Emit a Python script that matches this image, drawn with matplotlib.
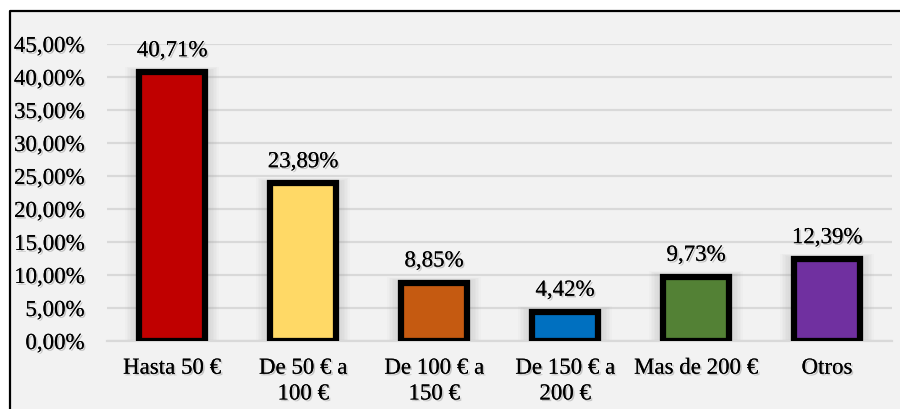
import matplotlib
matplotlib.use("Agg")
import matplotlib.pyplot as plt
import matplotlib.patheffects as pe
from matplotlib.lines import Line2D
from matplotlib.patches import Rectangle
from matplotlib.ticker import FuncFormatter, MultipleLocator

# Gasto por rango de precio
categorias = ["Hasta 50 €", "De 50 € a\n100 €", "De 100 € a\n150 €",
              "De 150 € a\n200 €", "Mas de 200 €", "Otros"]
porcentajes = [40.71, 23.89, 8.85, 4.42, 9.73, 12.39]
colores = ["#c00000", "#ffd966", "#c55a11", "#0070c0", "#538135", "#7030a0"]

plt.rcParams["font.family"] = ["Liberation Serif", "DejaVu Serif"]
plt.rcParams["font.size"] = 16.5

sombra_texto = [pe.withSimplePatchShadow(offset=(1.2, -1.2), shadow_rgbFace="#8c8c8c", alpha=0.45),
                pe.Normal()]

def fmt_coma(v, dec=2):
    return ("{:.%df}%%" % dec).format(v).replace(".", ",")

fig = plt.figure(figsize=(9, 4.1), dpi=100)

# fondo gris, con marco negro solo arriba y a la izquierda
x0, y1 = 10 / 900, 1 - 12 / 410
fig.patches.append(Rectangle((x0, 0), 1 - x0, y1, transform=fig.transFigure,
                             facecolor="#f2f2f2", edgecolor="none", zorder=-10))
fig.lines.append(Line2D([x0, x0, 1], [0, y1, y1], transform=fig.transFigure,
                        color="black", linewidth=1.6, zorder=-9))

ax = fig.add_axes([106.5 / 900, 1 - 342 / 410, 786 / 900, 297 / 410])
ax.set_facecolor("none")
ax.set_zorder(1)

x = list(range(len(categorias)))
ancho = 0.5

# sombra difusa detrás de cada barra
for xi, v in zip(x, porcentajes):
    for k in range(1, 10):
        pad = 0.012 * k
        ax.add_patch(Rectangle((xi - ancho / 2 - pad, 0), ancho + 2 * pad, v + pad * 8,
                               facecolor="#7f7f7f", edgecolor="none", alpha=0.03, zorder=1))

ax.bar(x, porcentajes, width=ancho, color=colores, edgecolor="black", linewidth=4.5, zorder=3)

for xi, v in zip(x, porcentajes):
    ax.annotate(fmt_coma(v), (xi, v), xytext=(0, 8), textcoords="offset points",
                ha="center", va="bottom", path_effects=sombra_texto, clip_on=False)

ax.set_xlim(-0.5, len(categorias) - 0.5)
ax.set_ylim(0, 45)
ax.yaxis.set_major_locator(MultipleLocator(5))
ax.yaxis.set_major_formatter(FuncFormatter(lambda v, p: fmt_coma(v)))
ax.grid(axis="y", color="#d9d9d9", linewidth=1.6, zorder=0)
ax.set_axisbelow(True)

for s in ax.spines.values():
    s.set_visible(False)
ax.spines["bottom"].set_visible(True)
ax.spines["bottom"].set_color("#d9d9d9")
ax.spines["bottom"].set_linewidth(1.6)

ax.set_xticks(x)
ax.set_xticklabels(categorias, linespacing=1.3)
ax.tick_params(axis="both", length=0)
ax.tick_params(axis="x", pad=12)
ax.tick_params(axis="y", pad=16)
for t in ax.get_xticklabels() + ax.get_yticklabels():
    t.set_path_effects(sombra_texto)

fig.savefig("out.png", dpi=100)
